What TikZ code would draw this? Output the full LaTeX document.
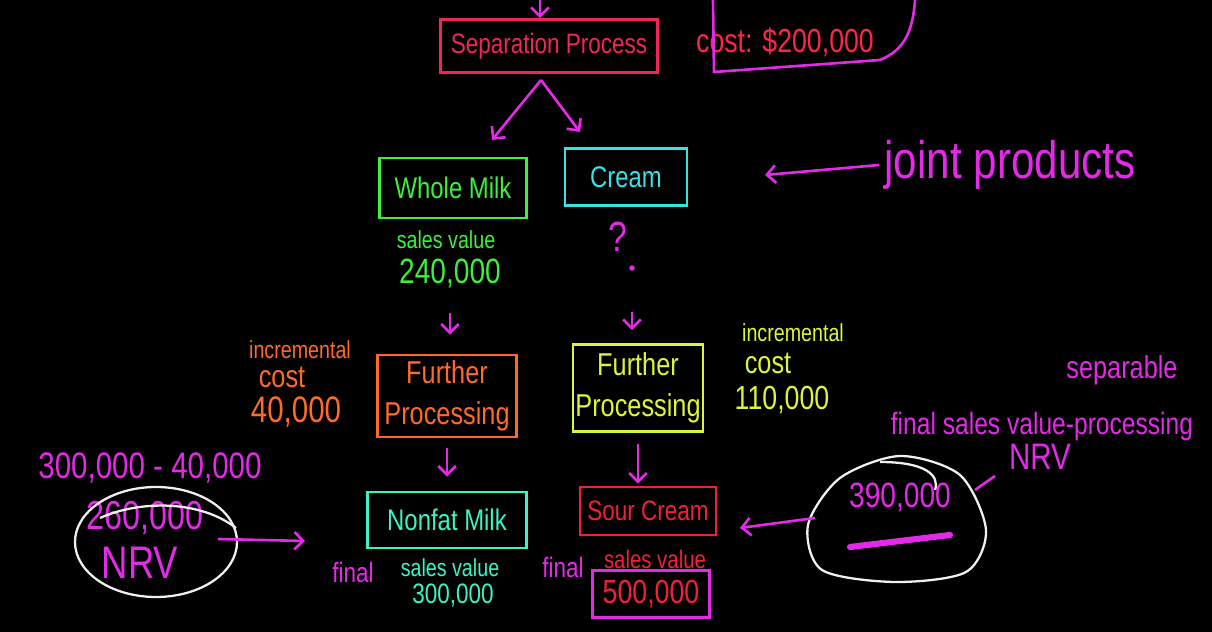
\documentclass[tikz,border=0pt]{standalone}
\usepackage{fontspec}
\setmainfont{Liberation Sans}[FakeStretch=0.8]
\usetikzlibrary{arrows.meta}

\definecolor{sepred}{HTML}{F2245A}
\definecolor{costred}{HTML}{FF2448}
\definecolor{pen}{HTML}{E42AE8}
\definecolor{milkgreen}{HTML}{3CF03C}
\definecolor{creamcyan}{HTML}{36E2E6}
\definecolor{orng}{HTML}{FF6A28}
\definecolor{yel}{HTML}{DEF43A}
\definecolor{mint}{HTML}{3CF2C6}
\definecolor{sourred}{HTML}{F41E3A}
\definecolor{chalk}{HTML}{F2EEEE}

\newcommand{\penfs}[1]{\fontsize{#1}{#1}\selectfont}

\begin{document}
\begin{tikzpicture}[x=0.2mm,y=-0.2mm,
  box/.style={draw=#1, text=#1, line width=1.5pt, inner sep=0pt},
  lbl/.style={text=#1, inner sep=0pt},
  arr/.style={pen, line width=1.5pt, -{Straight Barb[length=5pt,width=10pt]}},
  ring/.style={chalk, line width=1.3pt}]
\useasboundingbox (0,0) rectangle (1212,632);
\fill[black] (0,0) rectangle (1212,632);

% separation
\node[box=sepred, minimum width=43.4mm, minimum height=10.6mm, font=\penfs{16}] (sep) at (549,46) {Separation Process};
\node[lbl=costred, font=\penfs{19}] (cost) at (785,42) {cost: \$200,000};
\draw[pen, line width=1.5pt] (713,0) -- (714,72) -- (880,60) .. controls (905,50) and (913,30) .. (915,0);
\coordinate (topin) at (540,-4);
\draw[arr] (topin) -- (topin |- sep.north);
\coordinate (split) at (541,80);
\coordinate (toWhole) at (492,140);
\coordinate (toCream) at (580,132);
\draw[arr] (split) -- (toWhole);
\draw[arr] (split) -- (toCream);

% joint products
\node[box=milkgreen, minimum width=29.4mm, minimum height=12mm, font=\penfs{17}] (whole) at (453,188) {Whole Milk};
\node[box=creamcyan, minimum width=24.4mm, minimum height=11.4mm, font=\penfs{17}] (cream) at (626,177) {Cream};
\node[lbl=pen, font=\penfs{30}] (joint) at (1010,165) {joint products};
\coordinate (jpend) at (765,175);
\draw[arr] ([xshift=-1mm]joint.west) -- (jpend);
\node[lbl=milkgreen, font=\penfs{14}] (wsv) at (446,240) {sales value};
\node[lbl=milkgreen, font=\penfs{20}] (wval) at (450,273) {240,000};
\node[lbl=pen, font=\penfs{24}] (qm) at (618,237) {?};
\node[fill=pen, circle, inner sep=1.1pt] (dot) at (632,268) {};

% further processing
\node[box=orng, minimum width=27.8mm, minimum height=16.4mm, align=center, font=\fontsize{18}{23}\selectfont] (furtherL) at (447,396) {Further\\Processing};
\node[box=yel, minimum width=26mm, minimum height=17.4mm, align=center, font=\fontsize{18}{23}\selectfont] (furtherR) at (638,388) {Further\\Processing};
\node[lbl=orng, font=\penfs{14}] (incL) at (300,350) {incremental};
\node[lbl=orng, font=\penfs{18}] (costL) at (282,377) {cost};
\node[lbl=orng, font=\penfs{21}] (ivalL) at (296,412) {40,000};
\node[lbl=yel, font=\penfs{14}] (incR) at (793,333) {incremental};
\node[lbl=yel, font=\penfs{18}] (costR) at (768,363) {cost};
\node[lbl=yel, font=\penfs{19}] (ivalR) at (782,400) {110,000};
\draw[arr, shorten <=5mm, shorten >=3.8mm] (wval.south) -- (wval.south |- furtherL.north);
\draw[arr, shorten <=8.2mm, shorten >=2.6mm] (dot) -- (dot |- furtherR.north);

% end products
\node[box=mint, minimum width=31.8mm, minimum height=11.2mm, font=\penfs{17}] (nonfat) at (447,520) {Nonfat Milk};
\node[box=sourred, minimum width=27.2mm, minimum height=9.6mm, font=\penfs{16}] (sour) at (648,511) {Sour Cream};
\draw[arr, shorten <=2mm, shorten >=2.8mm] (furtherL.south) -- (furtherL.south |- nonfat.north);
\draw[arr, shorten <=2.2mm, shorten >=0.4mm] (furtherR.south) -- (furtherR.south |- sour.north);
\node[lbl=pen, font=\penfs{16}] (finL) at (353,572) {final};
\node[lbl=mint, font=\penfs{14}] (nsv) at (450,568) {sales value};
\node[lbl=mint, font=\penfs{16}] (nval) at (453,595) {300,000};
\node[lbl=pen, font=\penfs{16}] (finR) at (563,567) {final};
\node[lbl=sourred, font=\penfs{14.5}] (ssv) at (655,559) {sales value};
\node[box=pen, text=sourred, minimum width=23.4mm, minimum height=9.4mm, font=\penfs{19}] (sval) at (651,594) {500,000};

% NRV left
\node[lbl=pen, font=\penfs{21}] (diffL) at (150,468) {300,000 - 40,000};
\node[lbl=pen, font=\penfs{23}] (nrvvalL) at (145,518) {260,000};
\node[lbl=pen, font=\penfs{26}] (nrvL) at (140,563) {NRV};
\draw[ring] (156,542) ellipse [x radius=81, y radius=55];
\draw[ring] (100,518) .. controls (140,500) and (200,500) .. (236,528);
\coordinate (nrvfrom) at (218,539);
\coordinate (nrvto) at (305,541);
\draw[arr] (nrvfrom) -- (nrvto);

% NRV right
\node[lbl=pen, font=\penfs{18}] (sepable) at (1122,370) {separable};
\node[lbl=pen, font=\penfs{17.5}] (formula) at (1042,427) {final sales value-processing};
\node[lbl=pen, font=\penfs{21}] (nrvR) at (1040,457) {NRV};
\node[lbl=pen, font=\penfs{20}] (nrvvalR) at (900,497) {390,000};
\draw[ring] plot[smooth cycle] coordinates {(900,456) (960,475) (986,530) (966,572) (895,582) (822,570) (808,525) (840,478)};
\draw[ring] (880,462) .. controls (925,462) and (940,475) .. (935,490);
\draw[pen, line width=3.5pt, line cap=round] (850,547) -- (950,535);
\draw[pen, line width=1.5pt] (975,490) -- (995,476);
\coordinate (circW) at (815,518);
\coordinate (toSour) at (740,528);
\draw[arr] (circW) -- (toSour);
\end{tikzpicture}
\end{document}
